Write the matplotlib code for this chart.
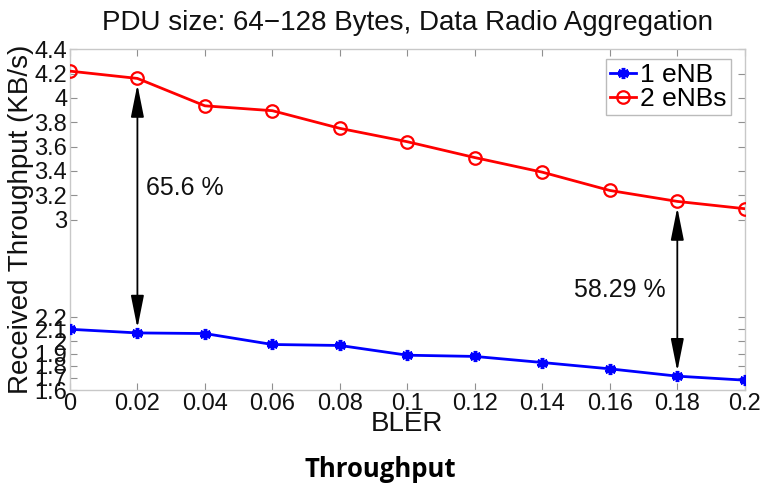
import matplotlib
matplotlib.use("Agg")
import matplotlib.pyplot as plt
import numpy as np

plt.rcParams['font.family'] = ['Liberation Sans', 'DejaVu Sans']

bler = [0, 0.02, 0.04, 0.06, 0.08, 0.1, 0.12, 0.14, 0.16, 0.18, 0.2]
one_enb = [2.10, 2.07, 2.065, 1.975, 1.967, 1.887, 1.877, 1.827, 1.775, 1.715, 1.682]
two_enbs = [4.22, 4.16, 3.935, 3.895, 3.75, 3.64, 3.51, 3.39, 3.24, 3.15, 3.09]
xtick_vals = [0, 0.02, 0.04, 0.06, 0.08, 0.1, 0.12, 0.14, 0.16, 0.18, 0.2]
xtick_labels = ["0", "0.02", "0.04", "0.06", "0.08", "0.1", "0.12", "0.14", "0.16", "0.18", "0.2"]
ytick_vals = [1.6, 1.7, 1.8, 1.9, 2.0, 2.1, 2.2, 3.0, 3.2, 3.4, 3.6, 3.8, 4.0, 4.2, 4.4]
ytick_labels = ["1.6", "1.7", "1.8", "1.9", "2", "2.1", "2.2", "3", "3.2", "3.4", "3.6", "3.8", "4", "4.2", "4.4"]
gap_annotations = [(0.02, 1, "65.6 %", 0.0225, 3.26), (0.18, 9, "58.29 %", 0.1495, 2.42)]

fig = plt.figure(figsize=(7.6, 4.92), dpi=100)
ax = fig.add_axes([0.092, 0.207, 0.888, 0.693])

ax.plot(bler, one_enb, color='#0000ff', lw=2.0, marker=(6, 2, 0), ms=8, mew=2.5,
        label='1 eNB', zorder=3)
ax.plot(bler, two_enbs, color='#ff0000', lw=2.0, marker='o', ms=9, mfc='none', mew=1.6,
        label='2 eNBs', zorder=3)

for xv, idx, txt, tx, ty in gap_annotations:
    ax.annotate('', xy=(xv, two_enbs[idx] - 0.05), xytext=(xv, one_enb[idx] + 0.04),
                arrowprops=dict(arrowstyle='<|-|>,head_length=1.0,head_width=0.2',
                                color='black', lw=1.3, mutation_scale=20,
                                shrinkA=0, shrinkB=0), zorder=4)
    ax.text(tx, ty, txt, fontsize=18, ha='left', va='center', color='#111111')

ax.set_xlim(0, 0.2)
ax.set_ylim(1.6, 4.4)
ax.set_xticks(xtick_vals)
ax.set_xticklabels(xtick_labels)
ax.set_yticks(ytick_vals)
ax.set_yticklabels(ytick_labels)
ax.tick_params(direction='in', top=True, right=True, length=5, width=0.8,
               color='#909090', labelsize=17, labelcolor='#111111', pad=2)
for s in ax.spines.values():
    s.set_color('#c8c8c8')
    s.set_linewidth(1.0)

ax.set_xlabel('BLER', fontsize=20, labelpad=-3, color='#111111')
ax.set_ylabel('Received Throughput (KB/s)', fontsize=20, labelpad=0, color='#111111')
ax.set_title('PDU size: 64\u2212128 Bytes, Data Radio Aggregation', fontsize=20,
             pad=14, color='#111111')

leg = ax.legend(loc='upper right', fontsize=19, handlelength=1.0, handletextpad=0.15,
                borderpad=0.15, labelspacing=0.0, fancybox=False, framealpha=1,
                edgecolor='#bbbbbb', bbox_to_anchor=(0.979, 0.97), borderaxespad=0)
leg.get_frame().set_linewidth(1.0)

fig.text(0.5, 0.045, 'Throughput', fontsize=18.5, fontweight='bold', ha='center',
         va='center', family=['Open Sans', 'DejaVu Sans'])

fig.savefig('out.png', dpi=100)
